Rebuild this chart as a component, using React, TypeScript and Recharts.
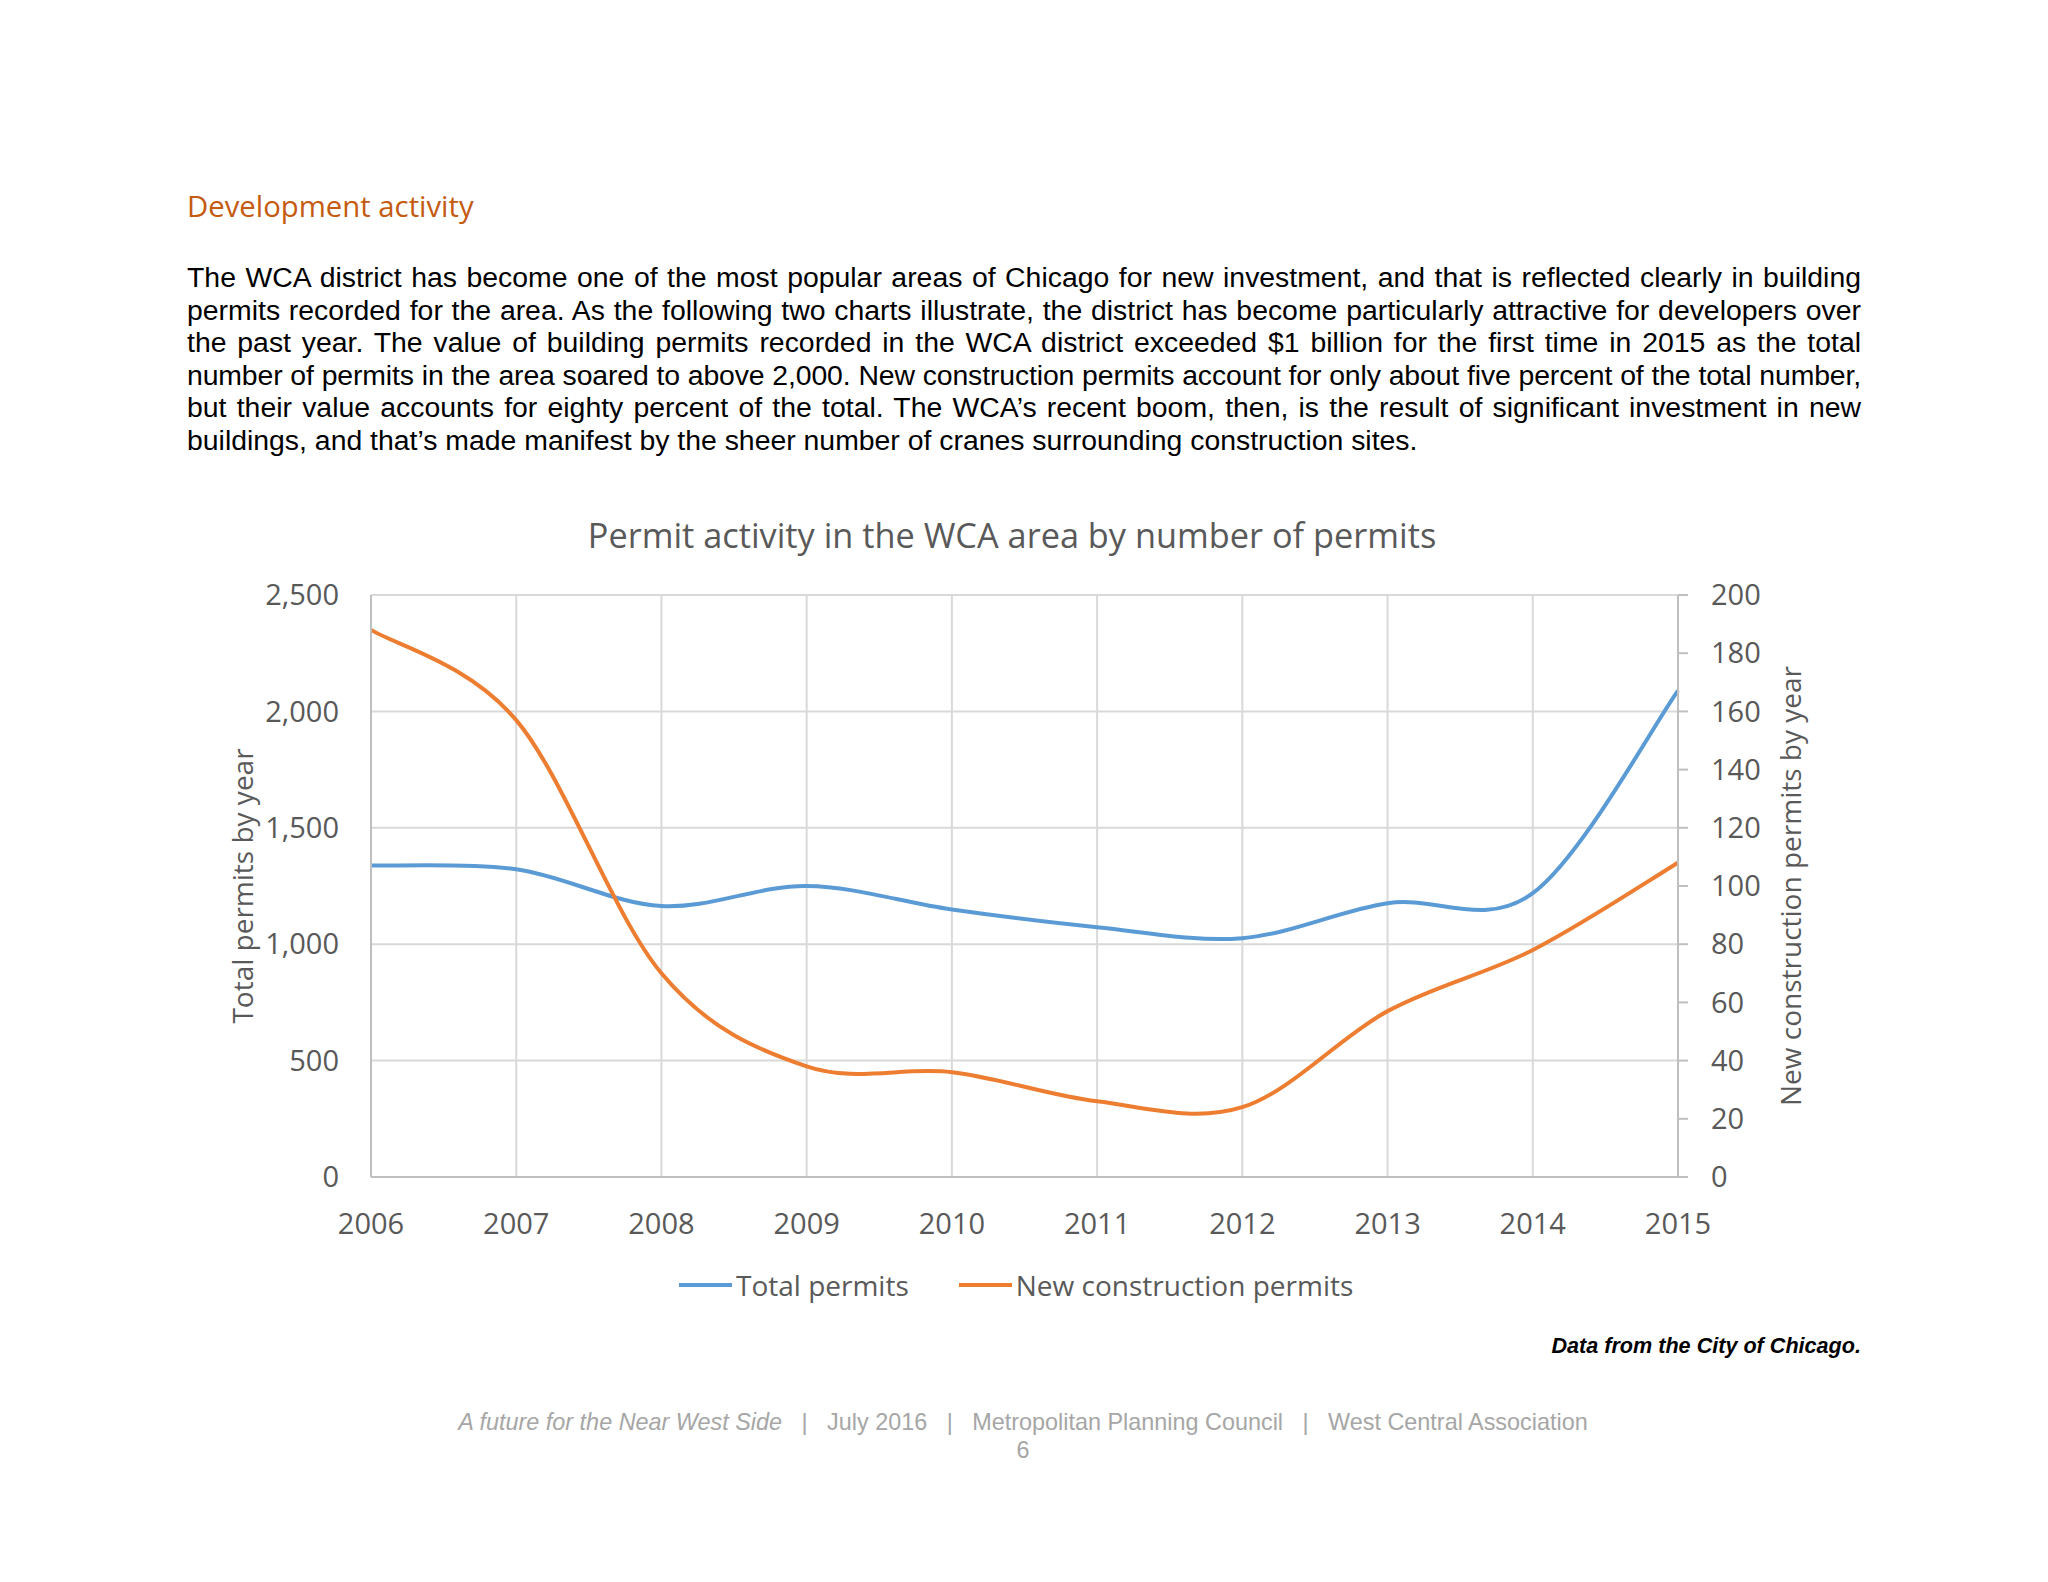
import React, { useLayoutEffect, useRef } from 'react';
import { LineChart, Line, XAxis, YAxis, CartesianGrid, Legend } from 'recharts';

// values
const years = ['2006', '2007', '2008', '2009', '2010', '2011', '2012', '2013', '2014', '2015'];
const totalPermits = [1338, 1322, 1164, 1250, 1149, 1073, 1026, 1176, 1219, 2089];
const newConstruction = [188, 157, 70, 38, 36, 26, 24, 57, 78, 108];
const leftTicks = [0, 500, 1000, 1500, 2000, 2500];
const rightTicks = [0, 20, 40, 60, 80, 100, 120, 140, 160, 180, 200];
const seriesNames = ['Total permits', 'New construction permits'];

const paragraphLines = [
  'The WCA district has become one of the most popular areas of Chicago for new investment, and that is reflected clearly in building',
  'permits recorded for the area. As the following two charts illustrate, the district has become particularly attractive for developers over',
  'the past year. The value of building permits recorded in the WCA district exceeded $1 billion for the first time in 2015 as the total',
  'number of permits in the area soared to above 2,000. New construction permits account for only about five percent of the total number,',
  'but their value accounts for eighty percent of the total. The WCA\u2019s recent boom, then, is the result of significant investment in new',
  'buildings, and that\u2019s made manifest by the sheer number of cranes surrounding construction sites.',
];

const data = years.map((year, i) => ({
  year,
  total: totalPermits[i],
  newc: newConstruction[i],
}));

const BLUE = '#5B9BD5';
const ORANGE = '#ED7D31';
const TEXT = '#595959';
const GRID = '#D9D9D9';
const AXIS = '#BFBFBF';
const CHART_FONT = '"Open Sans", "Noto Sans", sans-serif';
const BODY_FONT = '"Liberation Sans", Arial, sans-serif';

// Excel-style smoothed line (Catmull-Rom through every point)
const excelSmooth = (ctx: any) => {
  let pts: number[][] = [];
  return {
    areaStart() {},
    areaEnd() {},
    lineStart() {
      pts = [];
    },
    point(x: number, y: number) {
      pts.push([+x, +y]);
    },
    lineEnd() {
      if (!pts.length) return;
      ctx.moveTo(pts[0][0], pts[0][1]);
      for (let i = 0; i < pts.length - 1; i++) {
        const p0 = pts[Math.max(i - 1, 0)];
        const p1 = pts[i];
        const p2 = pts[i + 1];
        const p3 = pts[Math.min(i + 2, pts.length - 1)];
        ctx.bezierCurveTo(
          p1[0] + (p2[0] - p0[0]) / 6,
          p1[1] + (p2[1] - p0[1]) / 6,
          p2[0] - (p3[0] - p1[0]) / 6,
          p2[1] - (p3[1] - p1[1]) / 6,
          p2[0],
          p2[1]
        );
      }
    },
  };
};

const axisTitle = (text: string, xOffset: number) => (props: any) => {
  const vb = props.viewBox || {};
  const cx = vb.x + xOffset;
  const cy = vb.y + vb.height / 2;
  return (
    <text
      x={cx}
      y={cy}
      transform={`rotate(-90 ${cx} ${cy})`}
      textAnchor="middle"
      dominantBaseline="central"
      fill={TEXT}
      fontSize={28}
      fontFamily={CHART_FONT}
    >
      {text}
    </text>
  );
};

const renderLegend = (props: any) => {
  const items = [...(props.payload || [])].sort(
    (a: any, b: any) => seriesNames.indexOf(a.value) - seriesNames.indexOf(b.value)
  );
  return (
    <div style={{ display: 'flex', alignItems: 'center', fontFamily: CHART_FONT, fontSize: 28, color: TEXT }}>
      {items.map((entry: any) => (
        <div key={entry.value} style={{ display: 'flex', alignItems: 'center', marginRight: 50 }}>
          <div style={{ width: 53, height: 4, background: entry.color, marginRight: 4 }} />
          <span>{entry.value}</span>
        </div>
      ))}
    </div>
  );
};

function Paragraph() {
  const refs = useRef<(HTMLDivElement | null)[]>([]);
  useLayoutEffect(() => {
    // squeeze lines that are too long for the column, like the word processor did
    refs.current.forEach((el, i) => {
      if (!el) return;
      const over = el.scrollWidth - el.clientWidth;
      if (over > 0) {
        el.style.letterSpacing = `${-(over + 2) / paragraphLines[i].length}px`;
      }
    });
  }, []);
  return (
    <div
      style={{
        position: 'absolute',
        left: 187,
        top: 261,
        width: 1674,
        fontFamily: BODY_FONT,
        fontSize: 28.4,
        lineHeight: '32.6px',
        color: '#000',
      }}
    >
      {paragraphLines.map((line, i) => {
        const last = i === paragraphLines.length - 1;
        return (
          <div
            key={i}
            ref={(el) => {
              refs.current[i] = el;
            }}
            style={{
              textAlign: last ? 'left' : 'justify',
              textAlignLast: last ? 'left' : 'justify',
              whiteSpace: 'nowrap',
              overflow: 'visible',
            }}
          >
            {line}
          </div>
        );
      })}
    </div>
  );
}

export default function App() {
  return (
    <div style={{ position: 'absolute', left: 0, top: 0, width: 2048, height: 1582, background: '#fff', overflow: 'hidden' }}>
      <div
        style={{
          position: 'absolute',
          left: 187,
          top: 188,
          fontFamily: CHART_FONT,
          fontSize: 29.3,
          lineHeight: '36px',
          color: '#C55A11',
        }}
      >
        Development activity
      </div>

      <Paragraph />

      <div
        style={{
          position: 'absolute',
          left: 0,
          width: 2024,
          top: 513,
          textAlign: 'center',
          fontFamily: CHART_FONT,
          fontSize: 34.3,
          lineHeight: '44px',
          color: TEXT,
        }}
      >
        Permit activity in the WCA area by number of permits
      </div>

      <div style={{ position: 'absolute', left: 0, top: 0 }}>
        <LineChart
          width={2048}
          height={1582}
          data={data}
          margin={{ top: 595, right: 240, left: 0, bottom: 345 }}
        >
          <CartesianGrid yAxisId="left" stroke={GRID} strokeWidth={2} vertical horizontal />
          <XAxis
            dataKey="year"
            height={60}
            stroke={AXIS}
            strokeWidth={2}
            tickLine={false}
            tickSize={0}
            tickMargin={36}
            tick={{ fill: TEXT, fontSize: 29, fontFamily: CHART_FONT }}
            interval={0}
          />
          <YAxis
            yAxisId="left"
            orientation="left"
            width={371}
            domain={[0, 2500]}
            ticks={leftTicks}
            stroke={AXIS}
            strokeWidth={2}
            tickLine={false}
            tickSize={0}
            tickMargin={32}
            tick={{ fill: TEXT, fontSize: 29, fontFamily: CHART_FONT }}
            tickFormatter={(v: number) => v.toLocaleString('en-US')}
            label={{ content: axisTitle('Total permits by year', 242) }}
          />
          <YAxis
            yAxisId="right"
            orientation="right"
            width={130}
            domain={[0, 200]}
            ticks={rightTicks}
            stroke={AXIS}
            strokeWidth={2}
            tickSize={10}
            tickMargin={23}
            tickLine={{ stroke: AXIS, strokeWidth: 2 }}
            tick={{ fill: TEXT, fontSize: 29, fontFamily: CHART_FONT }}
            label={{ content: axisTitle('New construction permits by year', 112) }}
          />
          <Legend
            layout="horizontal"
            verticalAlign="middle"
            align="center"
            content={renderLegend}
            wrapperStyle={{ left: 679, top: 1266, width: 'auto' }}
          />
          <Line
            yAxisId="left"
            dataKey="total"
            name={seriesNames[0]}
            type={excelSmooth as any}
            stroke={BLUE}
            strokeWidth={4}
            dot={false}
            activeDot={false}
            isAnimationActive={false}
          />
          <Line
            yAxisId="right"
            dataKey="newc"
            name={seriesNames[1]}
            type={excelSmooth as any}
            stroke={ORANGE}
            strokeWidth={4}
            dot={false}
            activeDot={false}
            isAnimationActive={false}
          />
        </LineChart>
      </div>

      <div
        style={{
          position: 'absolute',
          right: 2048 - 1861,
          top: 1333,
          fontFamily: BODY_FONT,
          fontSize: 21.6,
          fontWeight: 'bold',
          fontStyle: 'italic',
          color: '#000',
        }}
      >
        Data from the City of Chicago.
      </div>

      <div
        style={{
          position: 'absolute',
          left: 0,
          width: 2046,
          top: 1408,
          textAlign: 'center',
          fontFamily: BODY_FONT,
          fontSize: 23.4,
          lineHeight: '28px',
          color: '#A6A6A6',
          whiteSpace: 'pre',
        }}
      >
        <div>
          <i>A future for the Near West Side</i>
          {'   |   July 2016   |   Metropolitan Planning Council   |   West Central Association'}
        </div>
        <div>6</div>
      </div>
    </div>
  );
}
